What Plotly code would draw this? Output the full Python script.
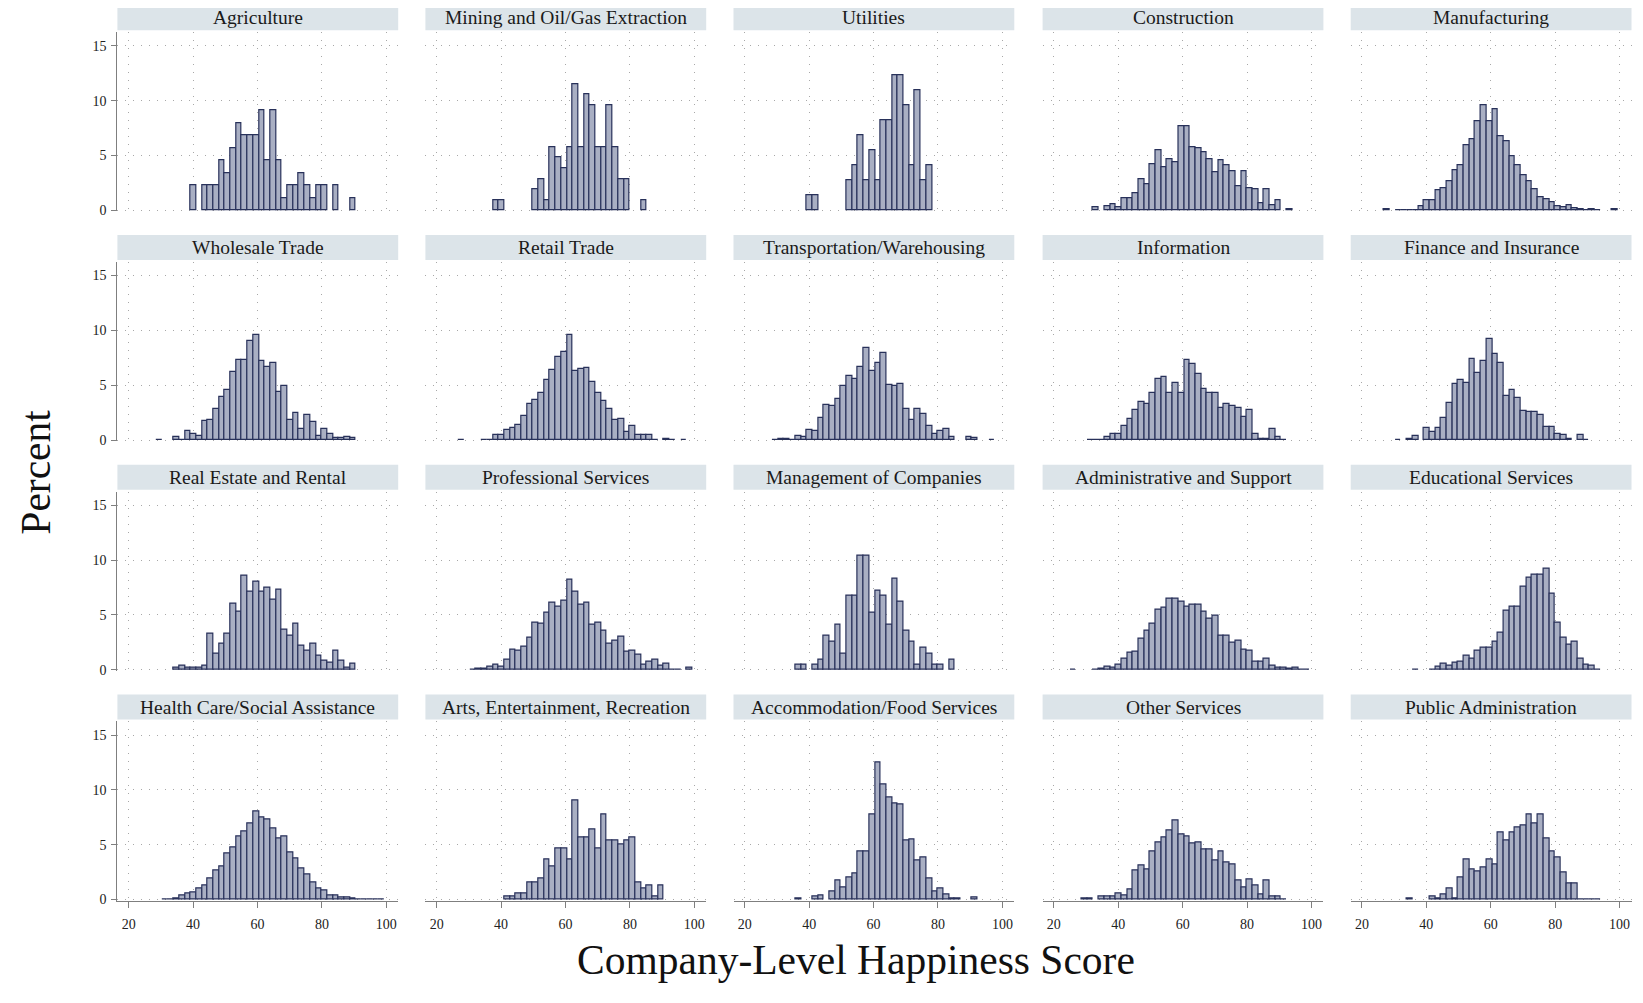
import plotly.graph_objects as go

# ---------------- data ----------------
BIN_WIDTH = 1.77      # histogram bin width (score points)
FIRST_EDGE = 16.22    # left edge of bin 0

industries = [
    "Agriculture", "Mining and Oil/Gas Extraction", "Utilities", "Construction", "Manufacturing",
    "Wholesale Trade", "Retail Trade", "Transportation/Warehousing", "Information", "Finance and Insurance",
    "Real Estate and Rental", "Professional Services", "Management of Companies", "Administrative and Support", "Educational Services",
    "Health Care/Social Assistance", "Arts, Entertainment, Recreation", "Accommodation/Food Services", "Other Services", "Public Administration",
]

# index of the first listed bin for each industry
start_bins = [13, 12, 13, 9, 6, 7, 6, 7, 8, 8, 10, 8, 11, 5, 11, 8, 14, 11, 7, 10]

agriculture = [2.27, 0, 2.27, 2.27, 2.27, 4.55, 3.41, 5.68, 7.95, 6.82, 6.82, 6.82, 9.09, 4.55, 9.09, 4.55,
               1.14, 2.27, 2.27, 3.41, 2.27, 1.14, 2.27, 2.27, 0, 2.27, 0, 0, 1.14]
mining = [0.96, 0.96, 0, 0, 0, 0, 0, 1.93, 2.88, 0.96, 5.77, 4.81, 3.85, 5.77, 11.54, 5.77, 10.58, 9.62,
          5.77, 5.77, 9.62, 5.77, 2.88, 2.88, 0, 0, 0.96]
utilities = [1.37, 1.37, 0, 0, 0, 0, 0, 2.74, 4.11, 6.85, 2.74, 5.48, 2.74, 8.22, 8.22, 12.33, 12.33, 9.59,
             4.11, 10.96, 2.74, 4.11]
construction = [0.3, 0, 0.35, 0.6, 0.3, 1.08, 1.08, 1.57, 2.8, 2.38, 4.2, 5.5, 3.9, 4.7, 4.4, 7.7, 7.7, 5.8,
                5.66, 5.27, 4.7, 3.46, 4.55, 4.1, 3.58, 2.2, 3.58, 2.0, 1.9, 0.63, 1.9, 0.45, 0.93, 0, 0.12]
manufacturing = [0.1, 0, 0.05, 0.05, 0.05, 0.05, 0.4, 0.9, 0.9, 1.8, 2.0, 2.7, 3.7, 4.1, 5.9, 6.5, 8.1, 9.6,
                 8.1, 9.2, 6.8, 6.3, 4.9, 4.1, 3.2, 2.7, 1.9, 1.2, 1.05, 0.7, 0.4, 0.3, 0.5, 0.2, 0.1, 0.05,
                 0.1, 0.05, 0, 0, 0.1]
wholesale = [0.05, 0, 0, 0.3, 0.05, 0.8, 0.6, 0.35, 1.75, 1.8, 2.8, 3.95, 4.55, 6.2, 7.3, 7.3, 9.0, 9.6, 7.2,
             6.7, 7.05, 4.4, 4.9, 1.85, 2.5, 1.05, 2.25, 1.65, 0.4, 1.0, 0.55, 0.15, 0.15, 0.25, 0.15]
retail = [0.05, 0, 0, 0, 0.05, 0.05, 0.5, 0.5, 0.9, 1.15, 1.4, 2.2, 3.3, 3.65, 4.3, 5.5, 6.4, 7.55, 8.05, 9.6,
          6.35, 6.5, 6.6, 5.3, 4.3, 3.6, 2.8, 1.8, 1.9, 0.75, 1.3, 0.45, 0.45, 0.45, 0.05, 0, 0.1, 0.05, 0, 0.05]
transportation = [0.05, 0.1, 0.1, 0.05, 0.4, 0.3, 0.9, 0.85, 2.0, 3.25, 3.15, 3.75, 4.95, 5.85, 5.6, 6.65, 8.4,
                  6.35, 7.05, 7.95, 5.0, 4.95, 5.1, 2.85, 1.85, 2.8, 2.4, 1.3, 0.6, 0.85, 1.0, 0.25, 0, 0, 0.3,
                  0.2, 0, 0, 0.05]
information = [0.05, 0.05, 0.05, 0.3, 0.55, 0.55, 1.25, 1.9, 2.75, 3.45, 3.3, 4.3, 5.6, 5.8, 4.3, 5.2, 4.3, 7.35,
               6.9, 6.05, 4.7, 4.3, 4.3, 2.95, 3.3, 3.15, 2.95, 2.1, 2.75, 0.55, 0.1, 0.1, 1.0, 0.3, 0.05]
finance = [0.05, 0, 0.1, 0.4, 0, 1.1, 0.75, 1.1, 2.0, 3.4, 5.15, 5.5, 5.2, 7.4, 6.15, 7.25, 9.2, 7.85, 7.0, 4.0,
           4.55, 3.85, 2.7, 2.6, 2.6, 2.3, 1.2, 1.2, 0.6, 0.5, 0.1, 0, 0.45, 0.05]
real_estate = [0.15, 0.4, 0.15, 0.15, 0.15, 0.4, 3.3, 1.5, 2.4, 3.3, 6.0, 5.3, 8.6, 7.1, 8.0, 7.1, 7.5, 6.4, 7.3,
               3.7, 3.1, 4.2, 2.2, 1.75, 2.4, 1.3, 0.85, 0.65, 1.75, 0.85, 0.15, 0.6]
professional = [0.05, 0.1, 0.1, 0.25, 0.5, 0.25, 0.95, 1.8, 1.7, 2.1, 2.9, 4.3, 4.2, 5.25, 6.15, 5.8, 6.35, 8.2,
                7.15, 5.95, 6.15, 4.1, 4.3, 3.55, 2.35, 2.7, 3.0, 1.65, 1.7, 1.35, 0.5, 0.75, 0.95, 0.35, 0.55,
                0.05, 0.05, 0, 0.15]
management = [0.45, 0.45, 0, 0.45, 0.95, 3.1, 2.6, 4.1, 1.5, 6.75, 6.75, 10.4, 10.4, 5.2, 7.25, 6.75, 4.15, 8.35,
              6.2, 3.6, 2.6, 0.45, 2.05, 1.5, 0.45, 0.45, 0, 0.95]
administrative = [0.05, 0, 0, 0, 0.05, 0.1, 0.25, 0.15, 0.5, 1.0, 1.6, 1.65, 2.85, 3.6, 4.2, 5.5, 5.65, 6.5, 6.5,
                  6.2, 5.75, 5.95, 5.95, 5.3, 4.65, 4.9, 3.1, 3.1, 2.5, 2.7, 1.8, 1.7, 0.75, 0.75, 1.05, 0.35,
                  0.2, 0.15, 0.1, 0.15, 0.05, 0.05]
educational = [0.05, 0, 0, 0.05, 0.25, 0.55, 0.4, 0.65, 0.75, 1.3, 1.05, 1.75, 2.05, 2.05, 2.6, 3.4, 5.35, 5.75,
               5.75, 7.55, 8.4, 8.7, 8.7, 9.2, 6.9, 4.3, 2.95, 2.25, 2.55, 1.05, 0.45, 0.35, 0.05]
health = [0.02, 0.05, 0.1, 0.35, 0.55, 0.65, 1.05, 1.3, 1.95, 2.7, 3.05, 4.2, 4.8, 5.75, 6.25, 6.95, 8.0, 7.45,
          7.35, 6.5, 5.6, 5.75, 4.3, 3.75, 2.85, 2.25, 1.6, 1.0, 0.85, 0.4, 0.4, 0.2, 0.15, 0.1, 0.05, 0.03,
          0.03, 0.03, 0.03]
arts = [0.3, 0.3, 0.6, 0.6, 1.6, 1.6, 1.95, 3.7, 3.0, 4.7, 4.7, 3.7, 9.05, 5.7, 5.7, 6.4, 4.7, 7.75, 5.35, 5.35,
        5.0, 5.35, 5.7, 1.6, 1.0, 1.3, 0.3, 1.3]
accommodation = [0.1, 0, 0, 0.3, 0.4, 0, 0.7, 1.75, 1.15, 2.05, 2.35, 4.4, 4.35, 7.75, 12.55, 10.5, 9.35, 8.75,
                 8.65, 5.4, 5.5, 3.6, 3.8, 1.9, 0.7, 1.0, 0.5, 0.1, 0.1, 0, 0, 0.15]
other_services = [0.1, 0.1, 0, 0.25, 0.25, 0.25, 0.55, 0.4, 0.95, 2.7, 3.1, 2.75, 4.4, 5.2, 5.65, 6.3, 7.2, 5.9,
                  5.75, 5.15, 5.25, 4.6, 4.6, 3.6, 4.4, 3.4, 3.25, 1.75, 1.1, 1.85, 1.3, 0.45, 1.75, 0.25, 0.25,
                  0.05]
public_admin = [0.1, 0, 0, 0, 0.3, 0.1, 0.45, 1.05, 0.1, 2.0, 3.7, 2.75, 2.6, 2.95, 3.7, 3.2, 6.1, 5.35, 6.1, 6.6,
                6.8, 7.75, 6.95, 7.75, 5.55, 4.35, 3.8, 2.45, 1.45, 1.45, 0.05, 0.05, 0.05, 0.05]

heights = [agriculture, mining, utilities, construction, manufacturing,
           wholesale, retail, transportation, information, finance,
           real_estate, professional, management, administrative, educational,
           health, arts, accommodation, other_services, public_admin]

x_ticks = [20, 40, 60, 80, 100]
y_ticks = [0, 5, 10, 15]

# ---------------- layout geometry (screen pixels) ----------------
PAGE_MARGIN = 8                   # default body margin of the html page
W, H = 1643 - 2 * PAGE_MARGIN, 1003 - 2 * PAGE_MARGIN
COL_LEFT = [117.4, 425.4, 733.5, 1042.6, 1350.7]
COL_W = 280.8
ROW_ZERO = 211.7        # screen pixel y of value 0 in first row
ROW_STEP = 231.4
PX_PER_UNIT = 11.04
Y_RANGE = [-0.1, 16.25]
X_RANGE = [16.5, 103.7]


def fx(px):
    return (px - PAGE_MARGIN) / W


def fy(py):
    return 1 - (py - PAGE_MARGIN) / H


FONT = "Liberation Serif, Times New Roman, serif"
FILL = "#A9AFC3"
EDGE = "#28315A"
GRID = "#A8A8A8"
AXIS = "#7F7F7F"
STRIP = "#DCE4E9"
DOTS = "1px,7px"

fig = go.Figure()
shapes = []
annotations = []

for i, name in enumerate(industries):
    r, c = divmod(i, 5)
    sfx = "" if i == 0 else str(i + 1)
    xs, ys = [], []
    for j, h in enumerate(heights[i]):
        if h > 0:
            xs.append(FIRST_EDGE + BIN_WIDTH * (start_bins[i] + j + 0.5))
            ys.append(h)
    fig.add_trace(go.Bar(
        x=xs, y=ys, width=BIN_WIDTH, xaxis="x" + sfx, yaxis="y" + sfx,
        marker=dict(color=FILL, line=dict(color=EDGE, width=1.2)),
        showlegend=False, hoverinfo="x+y",
    ))

    zero_px = ROW_ZERO + ROW_STEP * r
    top_px = zero_px - Y_RANGE[1] * PX_PER_UNIT
    bot_px = zero_px - Y_RANGE[0] * PX_PER_UNIT
    x0 = fx(COL_LEFT[c])
    x1 = fx(COL_LEFT[c] + COL_W)

    xa = dict(domain=[x0, x1], range=X_RANGE, anchor="y" + sfx,
              tickvals=x_ticks, showgrid=True, gridcolor=GRID, griddash=DOTS, gridwidth=1.3,
              zeroline=False, fixedrange=True)
    if r == 3:
        xa.update(showline=True, linecolor=AXIS, linewidth=1, ticks="outside", ticklen=6,
                  tickcolor=AXIS, showticklabels=True, ticklabelstandoff=5,
                  tickfont=dict(family=FONT, size=14, color="#222"))
    else:
        xa.update(showline=False, ticks="", showticklabels=False)

    ya = dict(domain=[fy(bot_px), fy(top_px)], range=Y_RANGE, anchor="x" + sfx,
              tickvals=y_ticks, showgrid=True, gridcolor=GRID, griddash=DOTS, gridwidth=1.3,
              zeroline=False, fixedrange=True)
    if c == 0:
        ya.update(showline=True, linecolor=AXIS, linewidth=1, ticks="outside", ticklen=5,
                  tickcolor=AXIS, showticklabels=True, ticklabelstandoff=2,
                  tickfont=dict(family=FONT, size=14, color="#222"))
    else:
        ya.update(showline=False, ticks="", showticklabels=False)

    fig.layout["xaxis" + sfx] = xa
    fig.layout["yaxis" + sfx] = ya

    # facet strip
    s_top = top_px - 27.2
    s_bot = top_px - 1.8
    shapes.append(dict(type="rect", xref="paper", yref="paper",
                       x0=x0, x1=x1, y0=fy(s_bot), y1=fy(s_top),
                       fillcolor=STRIP, line=dict(width=0), layer="below"))
    annotations.append(dict(text=name, xref="paper", yref="paper",
                            x=(x0 + x1) / 2, y=fy((s_top + s_bot) / 2),
                            xanchor="center", yanchor="middle", showarrow=False,
                            font=dict(family=FONT, size=19.5, color="#1a1a1a")))

annotations.append(dict(text="Percent", xref="paper", yref="paper", x=fx(36), y=fy(476),
                        textangle=-90, showarrow=False, xanchor="center", yanchor="middle",
                        font=dict(family=FONT, size=41.5, color="#111")))
annotations.append(dict(text="Company-Level Happiness Score", xref="paper", yref="paper",
                        x=fx(856), y=fy(967), showarrow=False, xanchor="center", yanchor="middle",
                        font=dict(family=FONT, size=41.5, color="#111")))

fig.update_layout(width=W, height=H, margin=dict(l=0, r=0, t=0, b=0),
                  paper_bgcolor="white", plot_bgcolor="white", bargap=0,
                  shapes=shapes, annotations=annotations,
                  font=dict(family=FONT))

fig.write_html("out.html")
